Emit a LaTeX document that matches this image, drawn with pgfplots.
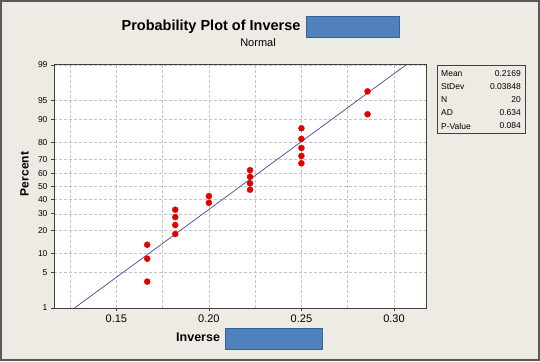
\documentclass[border=0pt]{standalone}
\usepackage{pgfplots}
\pgfplotsset{compat=1.18}
\usepackage{fontspec}
\setmainfont{Liberation Sans}
\definecolor{bgc}{RGB}{238,235,228}
\definecolor{redact}{RGB}{79,129,189}
\definecolor{redactb}{RGB}{58,98,150}
\definecolor{fitline}{RGB}{70,70,160}
\definecolor{ptred}{RGB}{225,0,0}
\definecolor{gridc}{RGB}{195,195,195}
\begin{document}
\begin{tikzpicture}
\fill[bgc] (0pt,0pt) rectangle (540pt,361pt);
\draw[black!65, line width=2pt] (1pt,1pt) rectangle (539pt,360pt);
\begin{axis}[
  at={(54pt,53pt)}, anchor=south west,
  width=372pt, height=243pt, scale only axis,
  xmin=0.1163, xmax=0.3173,
  ymin=-2.3263, ymax=2.3263,
  axis background/.style={fill=white},
  axis line style={black!75, line width=1pt},
  xtick={0.15,0.20,0.25,0.30},
  minor xtick={0.125,0.175,0.225,0.275},
  xticklabel style={/pgf/number format/fixed, /pgf/number format/precision=2, /pgf/number format/fixed zerofill, font=\fontsize{11}{13}\selectfont},
  /pgf/number format/assume math mode=true,
  ytick={-2.3263,-1.6449,-1.2816,-0.8416,-0.5244,-0.2533,0,0.2533,0.5244,0.8416,1.2816,1.6449,2.3263},
  yticklabels={1,5,10,20,30,40,50,60,70,80,90,95,99},
  yticklabel style={font=\fontsize{8.5}{10}\selectfont},
  xmajorgrids, xminorgrids, ymajorgrids,
  major grid style={gridc, dash pattern=on 3pt off 2pt, line width=0.6pt},
  minor grid style={gridc, dash pattern=on 3pt off 2pt, line width=0.6pt},
  tick align=outside, major tick length=3pt, minor tick length=0pt,
  tick style={black!75, line width=0.8pt},
  xtick pos=bottom, ytick pos=left,
  clip=true,
]
\addplot[fitline, line width=0.7pt] coordinates {(0.12738,-2.3263) (0.30642,2.3263)};
\addplot[only marks, mark=*, mark size=3pt, color=ptred, mark options={draw=ptred, fill=ptred}] coordinates {
(0.16667,-1.821) (0.16667,-1.383) (0.16667,-1.115)
(0.18182,-0.910) (0.18182,-0.738) (0.18182,-0.585) (0.18182,-0.445)
(0.20000,-0.312) (0.20000,-0.185)
(0.22222,-0.0614) (0.22222,0.0614) (0.22222,0.185) (0.22222,0.312)
(0.25000,0.445) (0.25000,0.585) (0.25000,0.738) (0.25000,0.910) (0.25000,1.115)
(0.28571,1.383) (0.28571,1.821)
};
\end{axis}
\begin{scope}[x=1pt,y=1pt]
% Titles
\node[anchor=east, font=\fontsize{14.5}{17}\selectfont\bfseries] at (304,334) {Probability Plot of Inverse};
\draw[redactb, fill=redact, line width=0.6pt] (306,324) rectangle (399,345);
\node[font=\fontsize{11}{13}\selectfont] at (258,318) {Normal};
% x label
\node[anchor=east, font=\fontsize{12.5}{14}\selectfont\bfseries] at (223.5,24) {Inverse};
\draw[redactb, fill=redact, line width=0.6pt] (225,12) rectangle (322,33);
% y label
\node[rotate=90, font=\fontsize{12}{14}\selectfont\bfseries] at (24.5,187) {Percent};
% stats box
\draw[black!75, line width=0.8pt] (437,228) rectangle (525,296);
\begin{scope}[every node/.style={font=\fontsize{8.5}{9}\selectfont, inner sep=0pt}]
\node[anchor=west] at (441,287) {Mean};
\node[anchor=west] at (441,274) {StDev};
\node[anchor=west] at (441,261) {N};
\node[anchor=west] at (441,248) {AD};
\node[anchor=west] at (441,235) {P-Value};
\node[anchor=east] at (521,287) {0.2169};
\node[anchor=east] at (521,274) {0.03848};
\node[anchor=east] at (521,261) {20};
\node[anchor=east] at (521,248) {0.634};
\node[anchor=east] at (521,235) {0.084};
\end{scope}
\end{scope}
\end{tikzpicture}
\end{document}
